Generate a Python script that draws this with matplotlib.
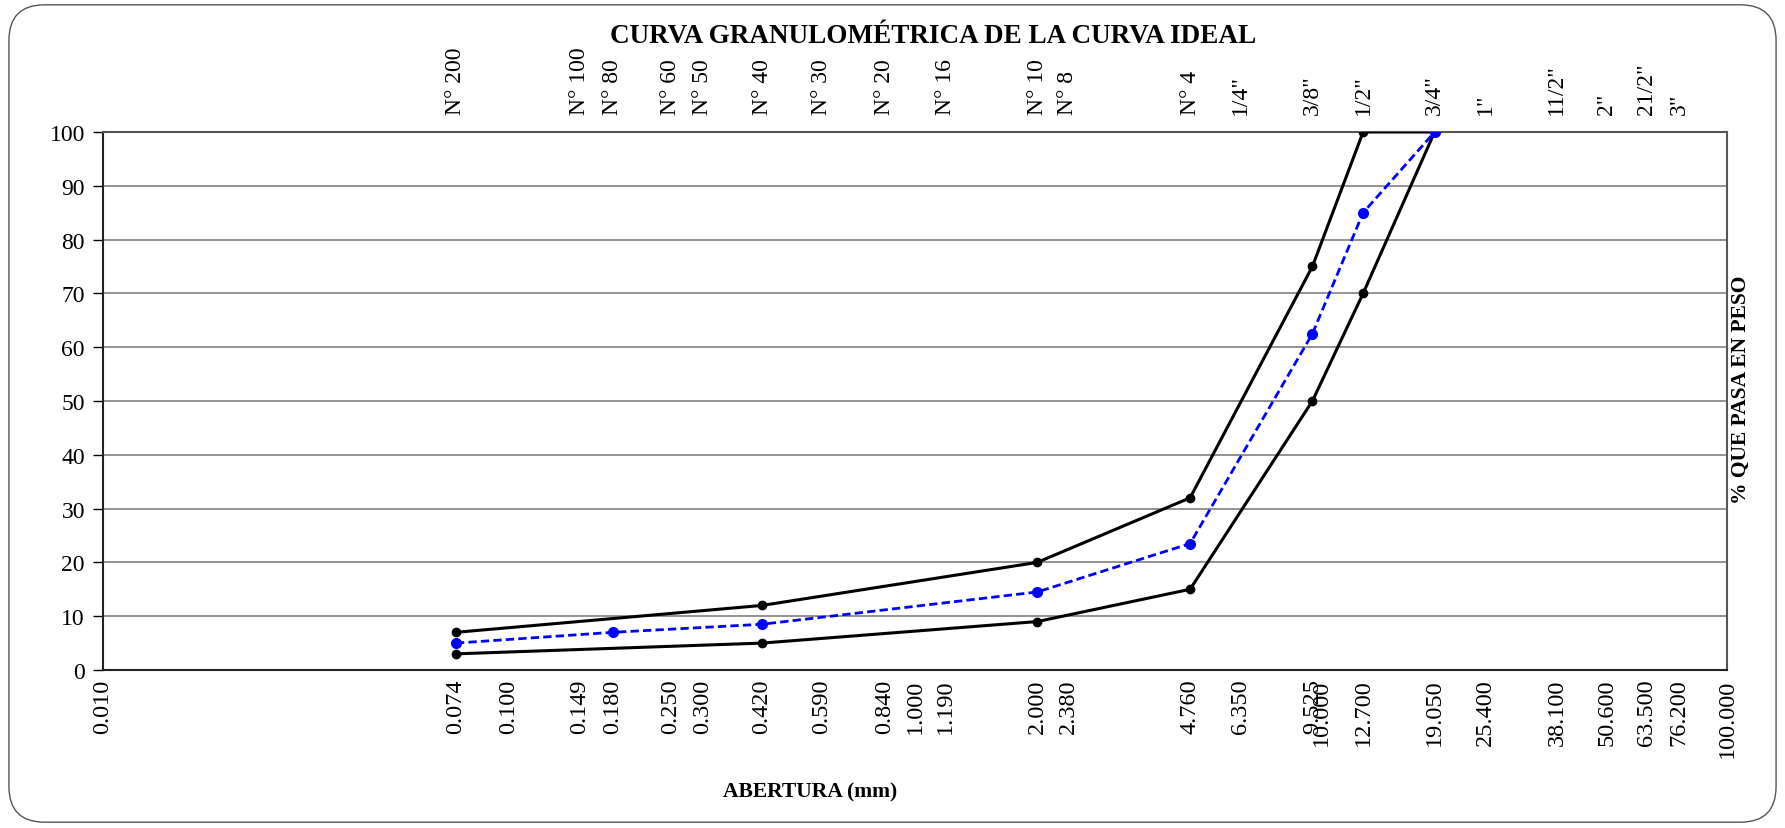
import matplotlib
matplotlib.use('Agg')
from matplotlib import pyplot as plt
from matplotlib.patches import FancyBboxPatch
import numpy as np

plt.rcParams['font.family'] = ['Liberation Serif', 'DejaVu Serif']

# sieve openings (mm) shown on the bottom axis
aberturas = [0.010, 0.074, 0.100, 0.149, 0.180, 0.250, 0.300, 0.420, 0.590, 0.840,
             1.000, 1.190, 2.000, 2.380, 4.760, 6.350, 9.525, 10.000, 12.700,
             19.050, 25.400, 38.100, 50.600, 63.500, 76.200, 100.000]

# sieve names shown on top
tamiz_abertura = [0.074, 0.149, 0.180, 0.250, 0.300, 0.420, 0.590, 0.840, 1.190,
                  2.000, 2.380, 4.760, 6.350, 9.525, 12.700, 19.050, 25.400,
                  38.100, 50.600, 63.500, 76.200]
tamiz_nombre = ['N° 200', 'N° 100', 'N° 80', 'N° 60', 'N° 50', 'N° 40', 'N° 30',
                'N° 20', 'N° 16', 'N° 10', 'N° 8', 'N° 4', '1/4"', '3/8"', '1/2"',
                '3/4"', '1"', '11/2"', '2"', '21/2"', '3"']

# limits of the gradation band
lim_x = [0.074, 0.420, 2.000, 4.760, 9.525, 12.700, 19.050]
lim_sup = [7, 12, 20, 32, 75, 100, 100]
lim_inf = [3, 5, 9, 15, 50, 70, 100]

# ideal curve
ideal_x = [0.074, 0.180, 0.420, 2.000, 4.760, 9.525, 12.700, 19.050]
ideal_y = [5, 7, 8.5, 14.5, 23.5, 62.5, 85, 100]

fig = plt.figure(figsize=(17.85, 8.29), dpi=100)
ax = fig.add_axes([0.0577, 0.1906, 0.9098, 0.6490])

border = FancyBboxPatch((0.005, 0.007), 0.99, 0.986, boxstyle='round,pad=0,rounding_size=0.02',
                        transform=fig.transFigure, fill=False, edgecolor='#555555', linewidth=1.0,
                        mutation_aspect=1785 / 829)
fig.patches.append(border)

ax.plot(lim_x, lim_sup, color='black', lw=2.2, marker='o', ms=6, zorder=3)
ax.plot(lim_x, lim_inf, color='black', lw=2.2, marker='o', ms=6, zorder=3)
ax.plot(ideal_x, ideal_y, color='blue', lw=2, ls='--', dashes=(3, 1.5), marker='o', ms=7, zorder=4)

ax.set_xscale('log')
ax.set_xlim(0.01, 100)
ax.set_ylim(0, 100)
ax.set_xticks(aberturas)
ax.set_xticklabels(['%.3f' % a for a in aberturas], rotation=90, fontsize=17.5, va='top')
ax.xaxis.set_minor_locator(matplotlib.ticker.NullLocator())
ax.tick_params(axis='x', length=0, pad=6)
ax.set_yticks(np.arange(0, 101, 10))
ax.tick_params(axis='y', direction='out', length=7, width=1, labelsize=17, pad=6)
ax.yaxis.grid(True, color='#808080', lw=1.2)
ax.set_axisbelow(True)

for side in ['left', 'bottom']:
    ax.spines[side].set_color('#222222')
    ax.spines[side].set_linewidth(1.5)
for side in ['top', 'right']:
    ax.spines[side].set_color('#555555')
    ax.spines[side].set_linewidth(1.5)

for xv, nombre in zip(tamiz_abertura, tamiz_nombre):
    ax.annotate(nombre, xy=(xv, 1), xycoords=('data', 'axes fraction'),
                xytext=(0, 13), textcoords='offset points', rotation=90,
                ha='center', va='bottom', fontsize=17)

fig.text(0.5227, 0.956, 'CURVA GRANULOMÉTRICA DE LA CURVA IDEAL', ha='center', va='center',
         fontsize=19.5, fontweight='bold')
fig.text(0.4538, 0.044, 'ABERTURA (mm)', ha='center', va='center', fontsize=15.5, fontweight='bold')
fig.text(0.9755, 0.53, '% QUE PASA EN PESO', ha='center', va='center', rotation=90,
         fontsize=15.5, fontweight='bold')

fig.savefig('out.png', dpi=100)
